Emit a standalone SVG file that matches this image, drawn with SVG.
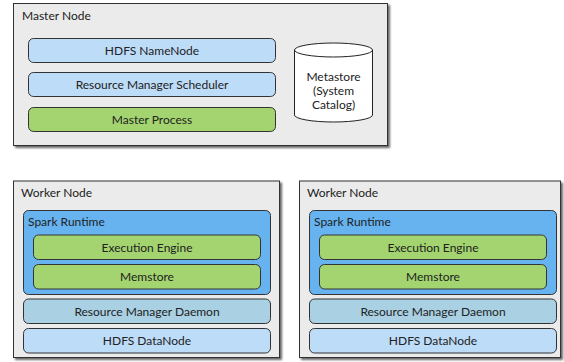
<svg xmlns="http://www.w3.org/2000/svg" width="564" height="362" viewBox="0 0 564 362">
<defs>
<filter id="shadow" x="-5%" y="-5%" width="115%" height="115%">
<feGaussianBlur in="SourceAlpha" stdDeviation="1"/>
<feOffset dx="2" dy="2" result="b"/>
<feComponentTransfer><feFuncA type="linear" slope="0.6"/></feComponentTransfer>
<feMerge><feMergeNode/><feMergeNode in="SourceGraphic"/></feMerge>
</filter>
</defs>
<style>
text{font-family:Lato,"Open Sans","Liberation Sans",sans-serif;font-size:12px;fill:#222}
.c{text-anchor:middle}
.cont{fill:#ebebeb;stroke:#333;stroke-width:1;filter:url(#shadow)}
.lb{fill:#bddcf8;stroke:#333;stroke-width:1}
.gr{fill:#a3d46f;stroke:#333;stroke-width:1}
.sp{fill:#66b3f0;stroke:#333;stroke-width:1}
.rm{fill:#a9d0e3;stroke:#333;stroke-width:1}
.db{fill:#fff;stroke:#222;stroke-width:1}
</style>
<g id="master">
<rect class="cont" x="13.5" y="3.5" width="374" height="142"/>
<text x="22" y="19.5">Master Node</text>
</g>
<g id="namenode"><rect class="lb" x="28.5" y="38.5" width="247" height="24" rx="5"/><text class="c" x="152" y="55">HDFS NameNode</text></g>
<g id="rmscheduler"><rect class="lb" x="28.5" y="72.5" width="247" height="24" rx="5"/><text class="c" x="152" y="89">Resource Manager Scheduler</text></g>
<g id="masterprocess"><rect class="gr" x="28.5" y="107.5" width="247" height="24" rx="5"/><text class="c" x="152" y="124">Master Process</text></g>
<g id="metastore">
<path class="db" d="M294.5,50 A39,7 0 0 1 372.5,50 L372.5,115 A39,7 0 0 1 294.5,115 Z"/>
<path d="M294.5,50 A39,7 0 0 0 372.5,50" fill="none" stroke="#222"/>
<text class="c" x="333.5" y="81">Metastore</text>
<text class="c" x="333.5" y="95">(System</text>
<text class="c" x="333.5" y="109">Catalog)</text>
</g>
<g id="worker1">
<rect class="cont" x="13.5" y="181" width="266" height="176.5"/>
<text x="21" y="196.5">Worker Node</text>
</g>
<g id="spark1"><rect class="sp" x="23.5" y="210.5" width="247" height="84" rx="5"/><text x="28" y="225.5">Spark Runtime</text></g>
<g id="exec1"><rect class="gr" x="33.5" y="235" width="227" height="24.5" rx="5"/><text class="c" x="147" y="251.5">Execution Engine</text></g>
<g id="mem1"><rect class="gr" x="33.5" y="264.5" width="227" height="24.5" rx="5"/><text class="c" x="147" y="281">Memstore</text></g>
<g id="rmd1"><rect class="rm" x="23.5" y="299" width="247" height="24.5" rx="5"/><text class="c" x="147" y="315.5">Resource Manager Daemon</text></g>
<g id="dn1"><rect class="lb" x="23.5" y="328.5" width="247" height="24.5" rx="5"/><text class="c" x="147" y="345">HDFS DataNode</text></g>
<g id="worker2">
<rect class="cont" x="299.5" y="181" width="261" height="176.5"/>
<text x="307" y="196.5">Worker Node</text>
</g>
<g id="spark2"><rect class="sp" x="309.5" y="210.5" width="247" height="84" rx="5"/><text x="314" y="225.5">Spark Runtime</text></g>
<g id="exec2"><rect class="gr" x="319.5" y="235" width="227" height="24.5" rx="5"/><text class="c" x="433" y="251.5">Execution Engine</text></g>
<g id="mem2"><rect class="gr" x="319.5" y="264.5" width="227" height="24.5" rx="5"/><text class="c" x="433" y="281">Memstore</text></g>
<g id="rmd2"><rect class="rm" x="309.5" y="299" width="247" height="24.5" rx="5"/><text class="c" x="433" y="315.5">Resource Manager Daemon</text></g>
<g id="dn2"><rect class="lb" x="309.5" y="328.5" width="247" height="24.5" rx="5"/><text class="c" x="433" y="345">HDFS DataNode</text></g>
<g id="connectors"/>
</svg>
